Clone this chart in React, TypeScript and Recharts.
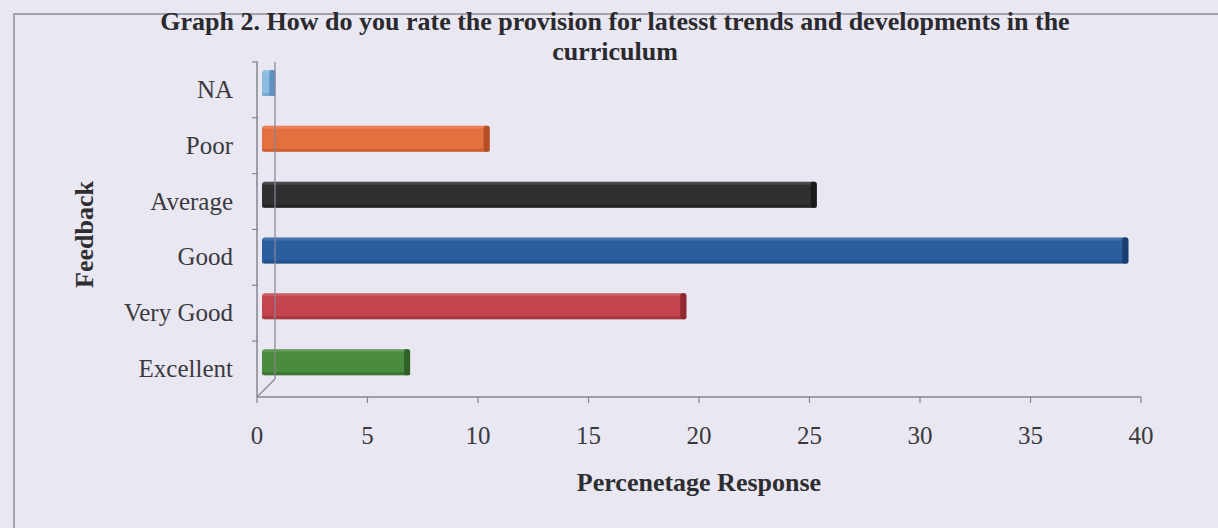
import React from 'react';
import { BarChart, Bar, XAxis, YAxis, Cell, ReferenceLine } from 'recharts';

// Feedback categories, top to bottom as drawn
const categories = ['NA', 'Poor', 'Average', 'Good', 'Very Good', 'Excellent'];
// Percentage response
const responses = [0.6, 10.3, 25.1, 39.2, 19.2, 6.7];
const xTicks = [0, 5, 10, 15, 20, 25, 30, 35, 40];

const faceColors = ['#8bbbe0', '#e5703f', '#303033', '#2b5e9f', '#c3444f', '#4b8b3e'];
const capColors = ['#5f93bf', '#b44f27', '#1a1a1c', '#1b3f70', '#8f2a33', '#2f6226'];

const data = categories.map((name, i) => ({ name, value: responses[i], idx: i }));

const serif = '"Liberation Serif", "DejaVu Serif", serif';
const axisGray = '#85858f';

const Bar3D = (props: any) => {
  const { x, y, width, height, payload } = props;
  const dx = 5;
  const dy = -7;
  const cap = Math.min(6, width / 2);
  const face = faceColors[payload.idx];
  const side = capColors[payload.idx];
  return (
    <g>
      <rect x={x + dx} y={y + dy} width={width} height={height} rx={3} fill={face} />
      <rect x={x + dx} y={y + dy} width={width} height={3} rx={1} fill="#ffffff" opacity={0.12} />
      <rect x={x + dx} y={y + dy + height - 3} width={width} height={3} rx={1} fill={side} opacity={0.5} />
      <rect x={x + dx + width - cap} y={y + dy} width={cap} height={height} rx={2} fill={side} />
    </g>
  );
};

const YTick = (props: any) => {
  const { x, y, payload } = props;
  return (
    <g>
      <line x1={x + 19} y1={y - 28} x2={x + 25} y2={y - 28} stroke={axisGray} strokeWidth={1.2} />
      <text x={x} y={y} dy={8} textAnchor="end" fontFamily={serif} fontSize={25} fill="#3a3a3e">
        {payload.value}
      </text>
    </g>
  );
};

const App: React.FC = () => {
  return (
    <div style={{ position: 'absolute', left: 0, top: 0, width: 1218, height: 528, background: '#e9e7f1', overflow: 'hidden' }}>
      {/* frame of the scanned box */}
      <div style={{ position: 'absolute', left: 13, top: 13, width: 1230, height: 540, borderLeft: '2px solid #a2a2ac', borderTop: '2px solid #a2a2ac' }} />
      <div style={{ position: 'absolute', left: 0, top: 7, width: 1230, fontFamily: serif, fontWeight: 'bold', fontSize: 26, lineHeight: '30px', color: '#2a2a2e' }}>
        <div style={{ width: 1230, textAlign: 'center' }}>Graph 2. How do you rate the provision for latesst trends and developments in the</div>
        <div style={{ width: 1230, textAlign: 'center' }}>curriculum</div>
      </div>
      <div style={{ position: 'absolute', left: 0, top: 0 }}>
        <BarChart
          width={1218}
          height={528}
          data={data}
          layout="vertical"
          barSize={26}
          margin={{ top: 62, right: 77, bottom: 0, left: 0 }}
        >
          <XAxis
            type="number"
            domain={[0, 40]}
            ticks={xTicks}
            height={131}
            axisLine={{ stroke: axisGray, strokeWidth: 1.5 }}
            tickLine={{ stroke: axisGray, strokeWidth: 1.2 }}
            tickSize={6}
            tickMargin={23}
            tick={{ fontFamily: serif, fontSize: 25, fill: '#3a3a3e' }}
            label={{
              content: ({ viewBox }: any) => (
                <text
                  x={viewBox.x + viewBox.width / 2}
                  y={viewBox.y + 94}
                  textAnchor="middle"
                  fontFamily={serif}
                  fontWeight="bold"
                  fontSize={26}
                  fill="#2e2e32"
                >
                  Percenetage Response
                </text>
              ),
            }}
          />
          <YAxis
            type="category"
            dataKey="name"
            width={257}
            axisLine={{ stroke: axisGray, strokeWidth: 1.5 }}
            tickLine={false}
            tick={<YTick />}
            tickMargin={0}
            tickSize={24}
            label={{
              content: ({ viewBox }: any) => (
                <text
                  x={0}
                  y={0}
                  transform={`translate(${viewBox.x + 93}, ${viewBox.y + viewBox.height / 2 + 5}) rotate(-90)`}
                  textAnchor="middle"
                  fontFamily={serif}
                  fontWeight="bold"
                  fontSize={26}
                  fill="#2e2e32"
                >
                  Feedback
                </text>
              ),
            }}
          />
          <ReferenceLine
            x={0}
            ifOverflow="visible"
            shape={(p: any) => (
              <path
                d={`M${p.x1 + 18},${Math.min(p.y1, p.y2)} L${p.x1 + 18},${Math.max(p.y1, p.y2) - 18} L${p.x1},${Math.max(p.y1, p.y2)}`}
                fill="none"
                stroke={axisGray}
                strokeWidth={1.2}
              />
            )}
          />
          <Bar dataKey="value" shape={<Bar3D />} isAnimationActive={false}>
            {data.map((d) => (
              <Cell key={d.name} fill={faceColors[d.idx]} />
            ))}
          </Bar>
        </BarChart>
      </div>
    </div>
  );
};

export default App;
